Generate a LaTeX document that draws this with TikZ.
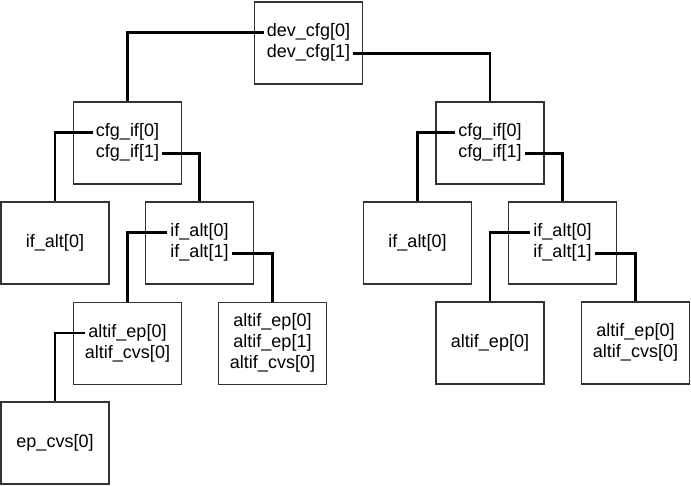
\documentclass[tikz,border=0pt]{standalone}
\usepackage{fontspec}
\setmainfont{Liberation Sans}
\begin{document}
\begin{tikzpicture}[x=1pt,y=-1pt,
  box/.style={draw=black!80,line width=1.1pt,minimum width=108pt,minimum height=82pt,inner sep=0pt,font=\fontsize{18}{21}\selectfont},
  ln/.style={inner xsep=3pt,inner ysep=0pt,text height=12.5pt,text depth=4pt,font=\fontsize{18}{21}\selectfont},
  conn/.style={line width=2.8pt}]
\useasboundingbox (0,0) rectangle (691,485);
% boxes
\node[box] (dev) at (308.5,43) {};
\node[box] (cfgL) at (127.5,143) {};
\node[box] (leafL) at (55,243) {if\_alt[0]};
\node[box] (altL) at (199.5,243) {};
\node[box] (aepL) at (127.5,343.5) {};
\node[box] (a3) at (272.5,343.5) {};
\node[box] (epcvs) at (55,443) {ep\_cvs[0]};
\node[box] (cfgR) at (490,143) {};
\node[box] (leafR) at (417.5,243) {if\_alt[0]};
\node[box] (altR) at (562.5,243) {};
\node[box] (aepR) at (490,343) {altif\_ep[0]};
\node[box] (a2R) at (635.5,343) {};
% text lines
\node[ln] (dev0) at (308.5,32.5) {dev\_cfg[0]};
\node[ln] (dev1) at (308.5,53.5) {dev\_cfg[1]};
\node[ln] (cfgL0) at (127.5,132.5) {cfg\_if[0]};
\node[ln] (cfgL1) at (127.5,153.5) {cfg\_if[1]};
\node[ln] (altL0) at (199.5,232.5) {if\_alt[0]};
\node[ln] (altL1) at (199.5,253.5) {if\_alt[1]};
\node[ln] (aepL0) at (127.5,333) {altif\_ep[0]};
\node[ln] (aepL1) at (127.5,354) {altif\_cvs[0]};
\node[ln] (a30) at (272.5,322.5) {altif\_ep[0]};
\node[ln] (a31) at (272.5,343.5) {altif\_ep[1]};
\node[ln] (a32) at (272.5,364.5) {altif\_cvs[0]};
\node[ln] (cfgR0) at (490,132.5) {cfg\_if[0]};
\node[ln] (cfgR1) at (490,153.5) {cfg\_if[1]};
\node[ln] (altR0) at (562.5,232.5) {if\_alt[0]};
\node[ln] (altR1) at (562.5,253.5) {if\_alt[1]};
\node[ln] (a2R0) at (635.5,332.5) {altif\_ep[0]};
\node[ln] (a2R1) at (635.5,353.5) {altif\_cvs[0]};
% connectors
\draw[conn] (dev0.west) -| (cfgL.north);
\draw[conn] (dev1.east) -| (cfgR.north);
\draw[conn] (cfgL0.west) -| (leafL.north);
\draw[conn] (cfgL1.east) -| (altL.north);
\draw[conn] (altL0.west) -| (aepL.north);
\draw[conn] (altL1.east) -| (a3.north);
\draw[conn] (aepL0.west) -| (epcvs.north);
\draw[conn] (cfgR0.west) -| (leafR.north);
\draw[conn] (cfgR1.east) -| (altR.north);
\draw[conn] (altR0.west) -| (aepR.north);
\draw[conn] (altR1.east) -| (a2R.north);
\end{tikzpicture}
\end{document}
